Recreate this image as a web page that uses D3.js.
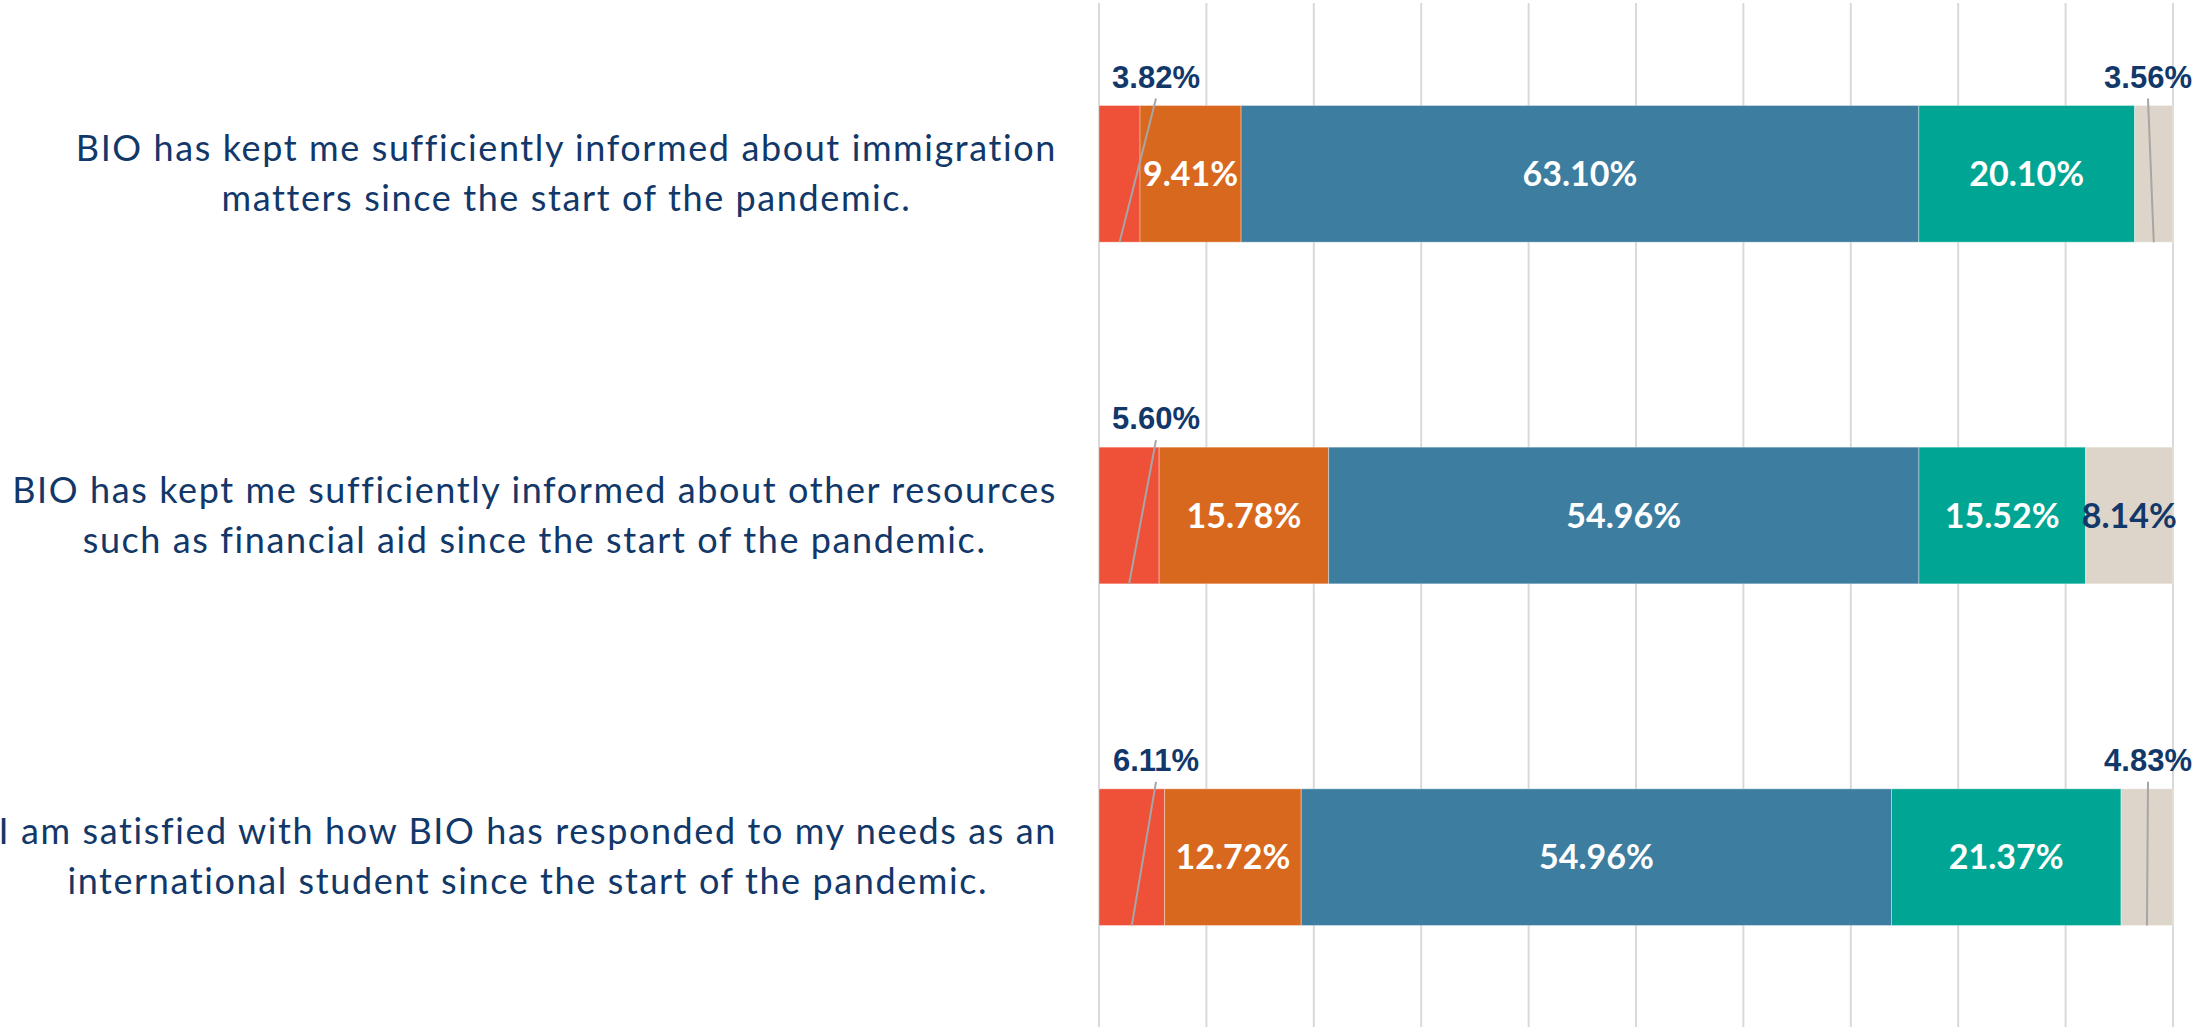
<!DOCTYPE html>
<html>
<head>
<meta charset="utf-8">
<script src="https://cdn.jsdelivr.net/npm/d3@7"></script>
<style>
  body { margin: 0; background: #ffffff; }
</style>
</head>
<body>
<script>
// statements, each split on two lines like the original axis labels
var statements = ["q1", "q2", "q3"];
var labelLines = [
  ["BIO has kept me sufficiently informed about immigration", "matters since the start of the pandemic."],
  ["BIO has kept me sufficiently informed about other resources", "such as financial aid since the start of the pandemic."],
  ["I am satisfied with how BIO has responded to my needs as an", "international student since the start of the pandemic."]
];
var answers = ["Strongly disagree", "Disagree", "Agree", "Strongly agree", "Not applicable"];
var strongDisagree = [3.82, 5.60, 6.11];
var disagree = [9.41, 15.78, 12.72];
var agree = [63.10, 54.96, 54.96];
var strongAgree = [20.10, 15.52, 21.37];
var notApplicable = [3.56, 8.14, 4.83];
var ticks = d3.range(0, 101, 10);

var colors = ["#EE5137", "#D9681F", "#3C7DA0", "#00A693", "#DDD5C9"];
var navy = "#12386A";

var width = 2196, height = 1027;

var svg = d3.select("body")
  .append("svg")
  .attr("width", width)
  .attr("height", height);

var x = d3.scaleLinear().domain([0, 100]).range([1099, 2173]);
var y = d3.scaleBand().domain(statements).range([3, 1028]).paddingInner(0.6).paddingOuter(0.3);

// gridlines
svg.append("g")
  .selectAll("line")
  .data(ticks)
  .enter()
  .append("line")
  .attr("x1", function(d){ return x(d); })
  .attr("x2", function(d){ return x(d); })
  .attr("y1", 3)
  .attr("y2", height)
  .attr("stroke", "#D9D9D9")
  .attr("stroke-width", 2);

// build stacked rows
var series = [strongDisagree, disagree, agree, strongAgree, notApplicable];
var rows = statements.map(function(s, i) {
  var row = {key: s};
  answers.forEach(function(a, j){ row[a] = series[j][i]; });
  return row;
});
var stacked = d3.stack().keys(answers)(rows);

var layers = svg.append("g")
  .selectAll("g")
  .data(stacked)
  .enter()
  .append("g")
  .attr("fill", function(d, i){ return colors[i]; });

layers.selectAll("rect")
  .data(function(d){ return d; })
  .enter()
  .append("rect")
  .attr("x", function(d){ return x(d[0]); })
  .attr("y", function(d){ return y(d.data.key); })
  .attr("width", function(d){ return x(d[1]) - x(d[0]); })
  .attr("height", y.bandwidth())
  .attr("stroke", "#ffffff")
  .attr("stroke-opacity", 0.35)
  .attr("stroke-width", 1);

// data labels
var labels = [];
stacked.forEach(function(layer, i) {
  layer.forEach(function(d) {
    var v = d[1] - d[0];
    var outside = (i == 0) || (i == answers.length - 1 && v < 6);
    labels.push({i: i, v: v, key: d.data.key, x0: d[0], x1: d[1], outside: outside});
  });
});

function fmt(v) { return d3.format(".2f")(v) + "%"; }

// inside labels
svg.append("g")
  .selectAll("text")
  .data(labels.filter(function(d){ return !d.outside; }))
  .enter()
  .append("text")
  .attr("x", function(d){ return (x(d.x0) + x(d.x1)) / 2; })
  .attr("y", function(d){ return y(d.key) + y.bandwidth() / 2 + 12; })
  .attr("text-anchor", "middle")
  .attr("font-family", "Lato, 'Open Sans', sans-serif")
  .attr("font-weight", "bold")
  .attr("font-size", "34px")
  .attr("fill", function(d){ return d.i == 4 ? navy : "#ffffff"; })
  .text(function(d){ return fmt(d.v); });

// outside labels with leader lines
var outs = labels.filter(function(d){ return d.outside; });
function labelX(d) { return d.i == 0 ? x(0) + 57 : x(100) - 25; }

svg.append("g")
  .selectAll("line")
  .data(outs)
  .enter()
  .append("line")
  .attr("x1", function(d){ return labelX(d); })
  .attr("y1", function(d){ return y(d.key) - 7; })
  .attr("x2", function(d){ return (x(d.x0) + x(d.x1)) / 2; })
  .attr("y2", function(d){ return y(d.key) + y.bandwidth(); })
  .attr("stroke", "#A6A6A6")
  .attr("stroke-width", 2);

svg.append("g")
  .selectAll("text")
  .data(outs)
  .enter()
  .append("text")
  .attr("x", function(d){ return labelX(d); })
  .attr("y", function(d){ return y(d.key) - 18; })
  .attr("text-anchor", "middle")
  .attr("font-family", "'Liberation Sans', Arial, sans-serif")
  .attr("font-weight", "bold")
  .attr("font-size", "31px")
  .attr("fill", navy)
  .text(function(d){ return fmt(d.v); });

// category labels
var cats = svg.append("g")
  .selectAll("g")
  .data(statements)
  .enter()
  .append("g");

cats.each(function(s, i) {
  var g = d3.select(this);
  var mid = y(s) + y.bandwidth() / 2;
  var first = g.append("text")
    .attr("x", 1057)
    .attr("y", mid - 13)
    .attr("text-anchor", "end")
    .attr("font-family", "Lato, 'Open Sans', sans-serif")
    .attr("font-size", "36px")
    .attr("letter-spacing", "1.6px")
    .attr("fill", navy)
    .text(labelLines[i][0]);
  var w = first.node().getComputedTextLength();
  g.append("text")
    .attr("x", 1057 - w / 2)
    .attr("y", mid + 37)
    .attr("text-anchor", "middle")
    .attr("font-family", "Lato, 'Open Sans', sans-serif")
    .attr("font-size", "36px")
    .attr("letter-spacing", "1.6px")
    .attr("fill", navy)
    .text(labelLines[i][1]);
});
</script>
</body>
</html>
